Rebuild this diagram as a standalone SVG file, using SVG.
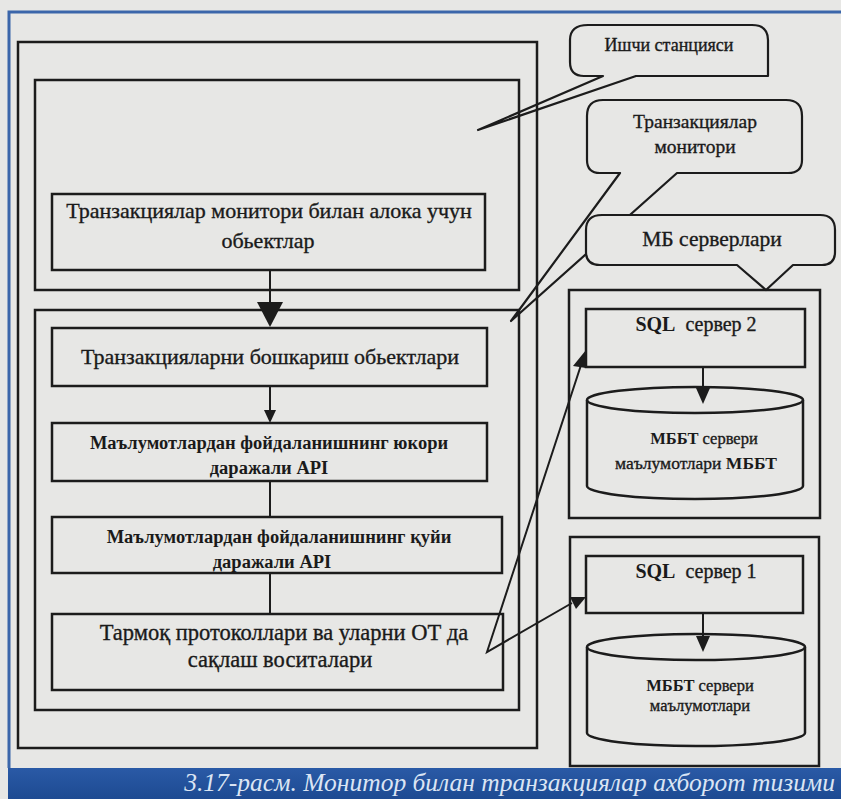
<svg xmlns="http://www.w3.org/2000/svg" width="841" height="799" viewBox="0 0 841 799">
<defs>
<linearGradient id="bar" x1="0" y1="0" x2="0" y2="1">
<stop offset="0" stop-color="#2a5aa6"/>
<stop offset="1" stop-color="#1d4a92"/>
</linearGradient>
<style>
.box{fill:none;stroke:#1c1c1c;stroke-width:2.5}
.call{fill:#e7e7e5;stroke:#1c1c1c;stroke-width:2.2;stroke-linejoin:round}
.ln{fill:none;stroke:#1c1c1c;stroke-width:2}
.hd{fill:#1c1c1c;stroke:none}
.t{font-family:"Liberation Serif","Times New Roman",serif;fill:#1a1a1a;stroke:#1a1a1a;stroke-width:0.35;text-anchor:middle}
.b{font-weight:bold;stroke-width:0}
.cap{font-family:"Liberation Serif","Times New Roman",serif;font-style:italic;fill:#dbe5f4;font-size:25.5px;text-anchor:end}
</style>
</defs>
<rect x="0" y="0" width="841" height="799" fill="#e7e7e5"/>
<path d="M9,768 V12 H841" fill="none" stroke="#3b66aa" stroke-width="3"/>
<rect x="8" y="768" width="833" height="31" fill="url(#bar)"/>
<text class="cap" x="835" y="791">3.17-расм. Монитор билан транзакциялар ахборот тизими</text>

<g id="callout-workstation">
<path class="call" d="M588,25 H752 Q768,25 768,40 V76 H636 L478,130 L603,76 H584 Q570,76 570,62 V40 Q570,25 588,25 Z"/>
<text class="t" x="669" y="51" font-size="18">Ишчи станцияси</text>
</g>
<g id="callout-tm">
<path class="call" d="M603,100 H786 Q802,100 802,116 V160 Q802,173 788,173 H677 L511,321 L620,173 H600 Q587,173 587,160 V116 Q587,100 603,100 Z"/>
<text class="t" x="695" y="128" font-size="19.5">Транзакциялар</text>
<text class="t" x="695" y="153" font-size="19.5">монитори</text>
</g>
<g id="callout-db">
<path class="call" d="M602,215 H820 Q835,215 835,230 V252 Q835,265 822,265 H793 L766,290 L737,265 H600 Q586,265 586,252 V230 Q586,215 602,215 Z"/>
<text class="t" x="712" y="246" font-size="21.5">МБ серверлари</text>
</g>

<g id="workstation">
<rect class="box" x="18" y="42" width="519" height="706"/>
</g>
<g id="client-area">
<rect class="box" x="35" y="80" width="484" height="210"/>
</g>
<g id="tm-objects">
<rect class="box" x="52" y="194" width="433" height="76"/>
<text class="t" x="269" y="218" font-size="22">Транзакциялар монитори билан алока учун</text>
<text class="t" x="268" y="248" font-size="22">обьектлар</text>
</g>
<g id="tm-area">
<rect class="box" x="35" y="310" width="484" height="400"/>
</g>
<g id="tx-control">
<rect class="box" x="52" y="328" width="435" height="58"/>
<text class="t" x="270" y="364" font-size="22">Транзакцияларни бошкариш обьектлари</text>
</g>
<g id="api-high">
<rect class="box" x="52" y="423" width="435" height="58"/>
<text class="t b" x="269" y="449" font-size="18.5">Маълумотлардан фойдаланишнинг юкори</text>
<text class="t b" x="269" y="474" font-size="18.5">даражали API</text>
</g>
<g id="api-low">
<rect class="box" x="52" y="517" width="450" height="56"/>
<text class="t b" x="279" y="543" font-size="18.5">Маълумотлардан фойдаланишнинг қуйи</text>
<text class="t b" x="272" y="568" font-size="18.5">даражали API</text>
</g>
<g id="network">
<rect class="box" x="52" y="614" width="451" height="76"/>
<text class="t" x="284" y="640" font-size="22.5">Тармоқ протоколлари ва уларни ОТ да</text>
<text class="t" x="280" y="667" font-size="22.5">сақлаш воситалари</text>
</g>

<g id="db-servers-2">
<rect class="box" x="569" y="290" width="251" height="228"/>
</g>
<g id="sql-2">
<rect class="box" x="586" y="309" width="219" height="58"/>
<text class="t" x="696" y="331" font-size="20" xml:space="preserve"><tspan class="b">SQL</tspan>  сервер 2</text>
</g>
<g id="dbms-2">
<path class="box" d="M587,400 A108,13 0 0 1 803,400 V486 A108,13 0 0 1 587,486 Z"/>
<path class="box" d="M587,400 A108,13 0 0 0 803,400"/>
<text class="t" x="704" y="444" font-size="16.5"><tspan class="b">МББТ</tspan> сервери</text>
<text class="t" x="696" y="469" font-size="17.5">маълумотлари <tspan class="b">МББТ</tspan></text>
</g>
<g id="db-servers-1">
<rect class="box" x="570" y="537" width="249" height="229"/>
</g>
<g id="sql-1">
<rect class="box" x="586" y="556" width="217" height="57"/>
<text class="t" x="696" y="578" font-size="20" xml:space="preserve"><tspan class="b">SQL</tspan>  сервер 1</text>
</g>
<g id="dbms-1">
<path class="box" d="M587,647 A109,13 0 0 1 805,647 V733 A109,13 0 0 1 587,733 Z"/>
<path class="box" d="M587,647 A109,13 0 0 0 805,647"/>
<text class="t" x="700" y="691" font-size="16.5"><tspan class="b">МББТ</tspan> сервери</text>
<text class="t" x="700" y="711" font-size="16.5">маълумотлари</text>
</g>

<g id="connectors">
<line class="ln" x1="270" y1="270" x2="270" y2="305" stroke-width="4"/>
<polygon class="hd" points="257,302 283,302 270,327"/>
<line class="ln" x1="270" y1="386" x2="270" y2="412"/>
<polygon class="hd" points="264,410 276,410 270,423"/>
<line class="ln" x1="270" y1="481" x2="270" y2="517"/>
<line class="ln" x1="270" y1="573" x2="270" y2="614"/>
<line class="ln" x1="703" y1="367" x2="703" y2="390"/>
<polygon class="hd" points="696,388 710,388 703,404"/>
<line class="ln" x1="703" y1="613" x2="703" y2="638"/>
<polygon class="hd" points="696,636 710,636 703,652"/>
<polyline class="ln" points="582,362 487,652 572,603" stroke-width="2.5"/>
<polygon class="hd" points="586,350 586,368 573,366"/>
<polygon class="hd" points="586,597 570,597 576,609"/>
</g>
</svg>
